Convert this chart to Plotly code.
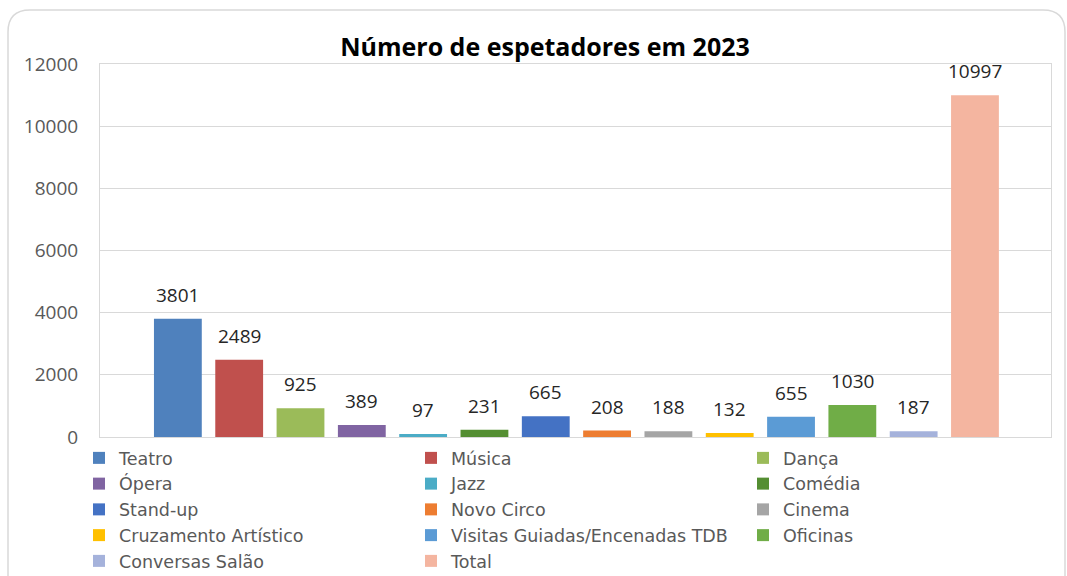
import plotly.graph_objects as go

categories = ["Teatro", "Música", "Dança", "Ópera", "Jazz", "Comédia", "Stand-up",
              "Novo Circo", "Cinema", "Cruzamento Artístico",
              "Visitas Guiadas/Encenadas TDB", "Oficinas", "Conversas Salão", "Total"]
values = [3801, 2489, 925, 389, 97, 231, 665, 208, 188, 132, 655, 1030, 187, 10997]
colors = ["#4F81BD", "#C0504D", "#9BBB59", "#8064A2", "#4BACC6", "#548E32", "#4472C4",
          "#ED7D31", "#A5A5A5", "#FFC000", "#5B9BD5", "#70AD47", "#A5B2DB", "#F4B5A0"]
y_ticks = [0, 2000, 4000, 6000, 8000, 10000, 12000]
title = "Número de espetadores em 2023"

W, H = 1067, 576
L, R, T, B = 100, 16, 64, 139
PW, PH = W - L - R, H - T - B
FONT = "Open Sans"

fig = go.Figure()
for name, v, c in zip(categories, values, colors):
    fig.add_trace(go.Bar(
        x=[name], y=[v], name=name, marker_color=c,
        marker_line_width=0, width=0.78,
    ))
    fig.add_annotation(x=name, y=v, xref="x", yref="y", text=str(v),
                       showarrow=False, yanchor="bottom", yshift=9,
                       font=dict(size=19, color="#262626", family=FONT))

def P(x, y):
    a, b = (x - L) / PW, (H - B - y) / PH
    return f"{a:.5f},{b:.5f}"

# rounded outer chart border
x0, y0, x1, y1, r = 8, 10, 1065, 600, 22
path = (f"M {P(x0, y0 + r)} Q {P(x0, y0)} {P(x0 + r, y0)} "
        f"L {P(x1 - r, y0)} Q {P(x1, y0)} {P(x1, y0 + r)} "
        f"L {P(x1, y1 - r)} Q {P(x1, y1)} {P(x1 - r, y1)} "
        f"L {P(x0 + r, y1)} Q {P(x0, y1)} {P(x0, y1 - r)} Z")

fig.update_layout(
    width=W, height=H,
    margin=dict(l=L, r=R, t=T, b=B, autoexpand=False),
    paper_bgcolor="white", plot_bgcolor="white",
    barmode="overlay",
    title=dict(text=f"<b>{title}</b>", x=545 / W, xanchor="center",
               y=1 - 47 / H, yanchor="middle", yref="container",
               font=dict(size=25, color="#000000", family=FONT)),
    xaxis=dict(type="category", categoryorder="array", categoryarray=categories,
               range=[-1.27, len(categories) - 1 + 1.24],
               showticklabels=False, showgrid=False, showline=True,
               linecolor="#D9D9D9", linewidth=1, mirror=True, ticks=""),
    yaxis=dict(range=[0, 12000], tickvals=y_ticks, tickformat="d", showgrid=True,
               gridcolor="#D9D9D9", gridwidth=1, zeroline=False,
               showline=True, linecolor="#D9D9D9", mirror=True,
               tickfont=dict(size=19, color="#595959", family=FONT),
               ticklabelstandoff=17, ticks=""),
    legend=dict(orientation="h", x=(79 - L) / PW, xanchor="left",
                y=(H - B - 440) / PH, yanchor="top",
                entrywidth=287, entrywidthmode="pixels", traceorder="normal",
                font=dict(size=17.5, color="#595959", family="DejaVu Sans"),
                itemwidth=30, tracegroupgap=0, bgcolor="rgba(0,0,0,0)"),
    shapes=[dict(type="path", xref="paper", yref="paper", path=path,
                 line=dict(color="#D9D9D9", width=1.5), fillcolor="rgba(0,0,0,0)",
                 layer="below")],
    showlegend=True,
)

fig.write_html("out.html", config={"displayModeBar": False},
               post_script="document.body.style.margin='0';document.body.style.overflow='hidden';")
